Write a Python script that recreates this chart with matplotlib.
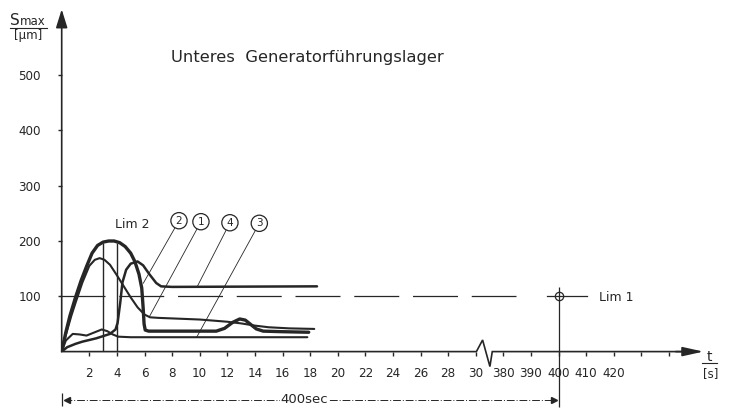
"""
Lower generator guide bearing: max shaft displacement vs time (broken time axis).
"""
import numpy as np
import matplotlib
matplotlib.use('Agg')
import matplotlib.pyplot as plt

# --- data ---
# curve 2 (thick, peak 200)
t_2 = [0, 0.3, 0.6, 1.0, 1.4, 1.8, 2.2, 2.6, 3.0, 3.4, 3.8, 4.2, 4.6, 5.0, 5.3, 5.6,
       5.8, 5.9, 5.97, 6.05, 6.3, 7.0, 11.2, 11.8, 12.4, 12.9, 13.3, 13.7, 14.1, 14.6, 16.0, 17.9]
s_2 = [0, 35, 65, 98, 128, 154, 178, 192, 198, 200, 200, 197, 190, 178, 163, 140,
       115, 80, 50, 39, 37, 37, 37, 42, 53, 59, 57, 49, 41, 37, 36, 35]
# curve 1 (peak ~169)
t_1 = [0, 0.3, 0.7, 1.0, 1.5, 2.0, 2.4, 2.75, 3.1, 3.5, 4.0, 4.5, 5.0, 5.5, 6.0, 6.4,
       7.0, 8.0, 10.0, 12.0, 13.0, 14.0, 15.0, 16.5, 18.3]
s_1 = [0, 30, 65, 88, 125, 155, 166, 169, 166, 157, 138, 118, 98, 80, 67, 62,
       61, 60, 58, 54, 51, 47, 44, 42, 41]
# curve 4 (late peak ~163, settles ~118)
t_4 = [0, 0.4, 1.0, 1.5, 2.5, 3.5, 3.9, 4.05, 4.25, 4.4, 4.67, 5.0, 5.5, 5.9, 6.35,
       6.85, 7.2, 8.0, 18.5]
s_4 = [0, 8, 14, 18, 24, 32, 40, 52, 90, 125, 148, 159, 163, 156, 140,
       124, 118, 117, 118]
# curve 3 (low, ~26)
t_3 = [0, 0.3, 0.8, 1.3, 1.8, 2.4, 2.9, 3.3, 3.7, 4.1, 5.0, 17.8]
s_3 = [0, 20, 32, 31, 29, 35, 40, 37, 31, 27, 26, 26]

lim1 = 100          # um
lim1_t = 400        # s
lim2_t = [3, 4]     # s
lim2_top = [197, 197]

y_ticks = [100, 200, 300, 400, 500]
x_ticks_short = list(range(2, 31, 2))
x_ticks_long = [380, 390, 400, 410, 420, 430, 440]
x_labels_long = ['380', '390', '400', '410', '420', '', '']

# break in the time axis: 380 s sits two units after 30 s, 10 s per unit after it
def tpos(t):
    t = np.asarray(t, dtype=float)
    return np.where(t <= 30, t, 32 + (t - 380) / 5.0)

# axis baseline with the break zigzag
base_u = [0, 30.05, 30.5, 31.03, 31.2, 46.0]
base_v = [0, 0, 21, -27, 0, 0]

ink = '#262626'
W, H = 732, 408
fig = plt.figure(figsize=(W / 100, H / 100), dpi=100)
fig.patch.set_facecolor('white')
px_u, px_v = 13.8, 0.553      # px per unit
x0, y0 = 61.7, 351.6          # origin in pixels
xmax, ymax = 46.5, 620
ax = fig.add_axes([x0 / W, (H - y0) / H, xmax * px_u / W, ymax * px_v / H])
ax.set_xlim(0, xmax)
ax.set_ylim(0, ymax)
for s in ax.spines.values():
    s.set_visible(False)

xt = list(tpos(x_ticks_short)) + list(tpos(x_ticks_long))
xl = [str(v) for v in x_ticks_short] + x_labels_long
ax.set_xticks(xt)
ax.set_xticklabels(xl, family='DejaVu Sans', stretch='condensed', fontsize=9.5, color=ink)
ax.set_yticks(y_ticks)
ax.set_yticklabels([str(v) for v in y_ticks], family='DejaVu Sans', stretch='condensed',
                   fontsize=9.5, color=ink)
ax.tick_params(axis='x', direction='out', length=3, width=1, color=ink, pad=8)
ax.tick_params(axis='y', direction='out', length=3, width=1, color=ink, pad=12)

# axes with arrow heads
ax.plot(base_u, base_v, color=ink, lw=1.2, clip_on=False, solid_joinstyle='miter')
ax.annotate('', xy=(xmax, 0), xytext=(44.5, 0),
            arrowprops=dict(arrowstyle='-|>,head_length=0.9,head_width=0.2',
                            mutation_scale=14, color=ink, lw=1.2, shrinkA=0, shrinkB=0),
            annotation_clip=False)
ax.annotate('', xy=(0, 619), xytext=(0, 0),
            arrowprops=dict(arrowstyle='-|>,head_length=0.8,head_width=0.25',
                            mutation_scale=14, color=ink, lw=1.2, shrinkA=0, shrinkB=0),
            annotation_clip=False)

# curves
ax.plot(t_2, s_2, color=ink, lw=2.4, solid_capstyle='round', solid_joinstyle='round')
ax.plot(t_1, s_1, color=ink, lw=1.5, solid_capstyle='round', solid_joinstyle='round')
ax.plot(t_4, s_4, color=ink, lw=1.8, solid_capstyle='round', solid_joinstyle='round')
ax.plot(t_3, s_3, color=ink, lw=1.5, solid_capstyle='round', solid_joinstyle='round')

# Lim 2 marks
ax.vlines(lim2_t, 0, lim2_top, color=ink, lw=1.0)
ax.text(3.86, 229, 'Lim 2', fontsize=9, color=ink, va='center', ha='left')

# Lim 1 level
u400 = float(tpos(lim1_t))
ax.plot([-0.15, 32.9], [lim1, lim1], color=ink, lw=0.9, linestyle=(0, (36, 11)), clip_on=False)
ax.plot([u400 - 0.8, u400 + 2.1], [lim1, lim1], color=ink, lw=0.9)
ax.plot([u400], [lim1], marker='o', ms=6, mfc='none', mec=ink, mew=0.9)
ax.vlines([u400], -100, 116, color=ink, lw=0.9, clip_on=False)
ax.text(38.9, 98, 'Lim 1', fontsize=9, color=ink, va='center', ha='left')

# 400 sec span below the axis
yspan = -87.5
ax.plot([0.2, u400 - 0.2], [yspan, yspan], color=ink, lw=0.7,
        linestyle=(0, (8, 2, 1, 2)), clip_on=False)
ax.plot([0.35], [yspan], marker='<', ms=5, color=ink, clip_on=False)
ax.plot([u400 - 0.35], [yspan], marker='>', ms=5, color=ink, clip_on=False)
ax.vlines([0], -99, -75, color=ink, lw=0.9, clip_on=False)
ax.text(17.6, yspan, '400sec', fontsize=9.5, color=ink, ha='center', va='center',
        bbox=dict(fc='white', ec='none', pad=0.5), clip_on=False)

# circled curve numbers with leaders
labels = ['2', '1', '4', '3']
lab_pos = [(8.5, 236.7), (10.09, 234.9), (12.19, 233), (14.32, 232)]
lab_tgt = [(5.91, 123.5), (6.35, 63), (9.83, 118), (9.78, 26)]
for txt, p, q in zip(labels, lab_pos, lab_tgt):
    ax.annotate(txt, xy=q, xytext=p, fontsize=7.5, color=ink, ha='center', va='center',
                bbox=dict(boxstyle='circle,pad=0.3', fc='white', ec=ink, lw=0.9),
                arrowprops=dict(arrowstyle='-', color=ink, lw=0.6, shrinkA=0, shrinkB=0))

# title and axis captions
ax.text(17.8, 532, 'Unteres  Generatorführungslager', fontsize=11.8, color=ink,
        ha='center', va='center')
ax.text(-3.75, 590, 'S', fontsize=11, color=ink, ha='left', va='baseline', clip_on=False)
ax.text(-3.05, 590, 'max', fontsize=8.5, color=ink, ha='left', va='baseline', clip_on=False)
ax.plot([-3.75, -1.07], [585, 585], color=ink, lw=0.8, clip_on=False)
ax.text(-2.45, 571, '[µm]', fontsize=8.5, color=ink, ha='center', va='center', clip_on=False)
ax.text(46.95, -10, 't', fontsize=10, color=ink, ha='center', va='center', clip_on=False)
ax.plot([46.4, 47.5], [-21, -21], color=ink, lw=0.8, clip_on=False)
ax.text(47.0, -40.5, '[s]', fontsize=8.5, color=ink, ha='center', va='center', clip_on=False)

fig.savefig('out.png', dpi=100, facecolor='white')
